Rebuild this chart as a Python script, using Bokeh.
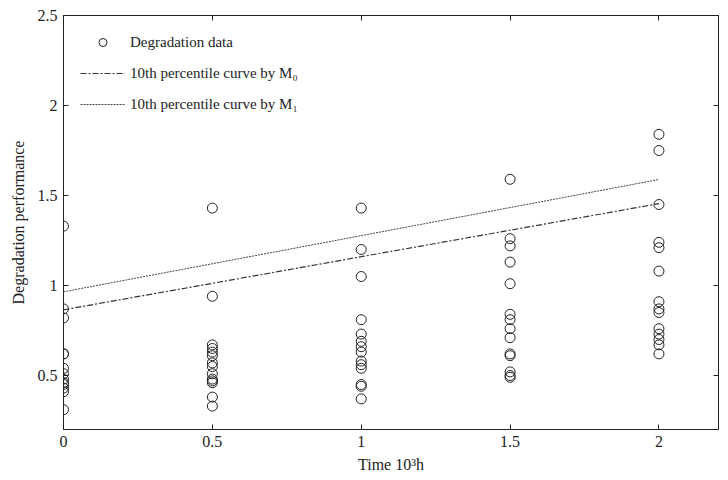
from bokeh.plotting import figure
from bokeh.models import Range1d, LinearAxis, Legend, LegendItem, FixedTicker
from bokeh.embed import file_html
from bokeh.resources import INLINE

# ---- data ----
times = [0, 0.5, 1, 1.5, 2]
deg_t0 = [1.33, 0.87, 0.82, 0.62, 0.62, 0.54, 0.51, 0.48, 0.46, 0.45, 0.43, 0.41, 0.31]
deg_t05 = [1.43, 0.94, 0.67, 0.65, 0.63, 0.61, 0.57, 0.55, 0.51, 0.48, 0.47, 0.46, 0.38, 0.33]
deg_t1 = [1.43, 1.20, 1.05, 0.81, 0.73, 0.69, 0.66, 0.63, 0.58, 0.56, 0.54, 0.45, 0.44, 0.37]
deg_t15 = [1.59, 1.26, 1.22, 1.13, 1.01, 0.84, 0.81, 0.76, 0.71, 0.62, 0.61, 0.52, 0.50, 0.49]
deg_t2 = [1.84, 1.75, 1.45, 1.24, 1.21, 1.08, 0.91, 0.87, 0.85, 0.76, 0.73, 0.70, 0.67, 0.62]
curve_t = [0, 0.5, 1, 1.5, 2]
curve_m0 = [0.865, 1.012, 1.160, 1.307, 1.455]
curve_m1 = [0.965, 1.121, 1.277, 1.433, 1.589]
x_ticks = [0, 0.5, 1, 1.5, 2]
y_ticks = [0.5, 1, 1.5, 2, 2.5]

groups = [deg_t0, deg_t05, deg_t1, deg_t15, deg_t2]
xs, ys = [], []
for t, g in zip(times, groups):
    for v in g:
        xs.append(t)
        ys.append(v)

FONT = "Liberation Serif"

p = figure(width=728, height=480, output_backend="svg", toolbar_location=None,
           x_range=Range1d(0, 2.2), y_range=Range1d(0.2, 2.5),
           min_border_left=63, min_border_right=10, min_border_top=15, min_border_bottom=51)
p.grid.visible = False
p.outline_line_color = "#222222"
p.outline_line_width = 1
p.background_fill_color = "white"
p.border_fill_color = "white"

for ax in [p.xaxis[0], p.yaxis[0]]:
    ax.major_tick_in = 5
    ax.major_tick_out = 0
    ax.minor_tick_in = 0
    ax.minor_tick_out = 0
    ax.axis_line_color = "#222222"
    ax.major_tick_line_color = "#222222"
    ax.major_label_text_font = FONT
    ax.major_label_text_font_size = "16px"
    ax.major_label_text_color = "#222222"
    ax.axis_label_text_font = FONT
    ax.axis_label_text_font_size = "16px"
    ax.axis_label_text_font_style = "normal"
    ax.axis_label_text_color = "#222222"

p.xaxis[0].ticker = FixedTicker(ticks=x_ticks)
p.yaxis[0].ticker = FixedTicker(ticks=y_ticks)
p.xaxis[0].major_label_standoff = 6
p.yaxis[0].major_label_standoff = 6
p.xaxis[0].axis_label = "Time 10³h"
p.yaxis[0].axis_label = "Degradation performance"
p.xaxis[0].axis_label_standoff = 6
p.yaxis[0].axis_label_standoff = 8

top = LinearAxis(ticker=FixedTicker(ticks=x_ticks), major_label_text_font_size="0px",
                 major_tick_in=5, major_tick_out=0, minor_tick_in=0, minor_tick_out=0,
                 axis_line_color="#222222", major_tick_line_color="#222222")
right = LinearAxis(ticker=FixedTicker(ticks=y_ticks), major_label_text_font_size="0px",
                   major_tick_in=5, major_tick_out=0, minor_tick_in=0, minor_tick_out=0,
                   axis_line_color="#222222", major_tick_line_color="#222222")
p.add_layout(top, "above")
p.add_layout(right, "right")

r_pts = p.scatter(xs, ys, marker="circle", size=10, fill_color=None,
                  line_color="#222222", line_width=1)
r_m0 = p.line(curve_t, curve_m0, line_color="#333333", line_width=1.2, line_dash="6 2 2 2")
r_m1 = p.line(curve_t, curve_m1, line_color="#444444", line_width=1, line_dash="2 1")

legend = Legend(items=[
    LegendItem(label="Degradation data", renderers=[r_pts]),
    LegendItem(label="10th percentile curve by M\u2080", renderers=[r_m0]),
    LegendItem(label="10th percentile curve by M\u2081", renderers=[r_m1]),
], location="top_left", margin=7, padding=10, spacing=11,
    glyph_width=45, glyph_height=20, label_height=20, label_standoff=5,
    label_text_font=FONT, label_text_font_size="15px", label_text_color="#222222",
    border_line_alpha=0, background_fill_alpha=0)
p.add_layout(legend)

open("out.html", "w").write(file_html(p, INLINE))
